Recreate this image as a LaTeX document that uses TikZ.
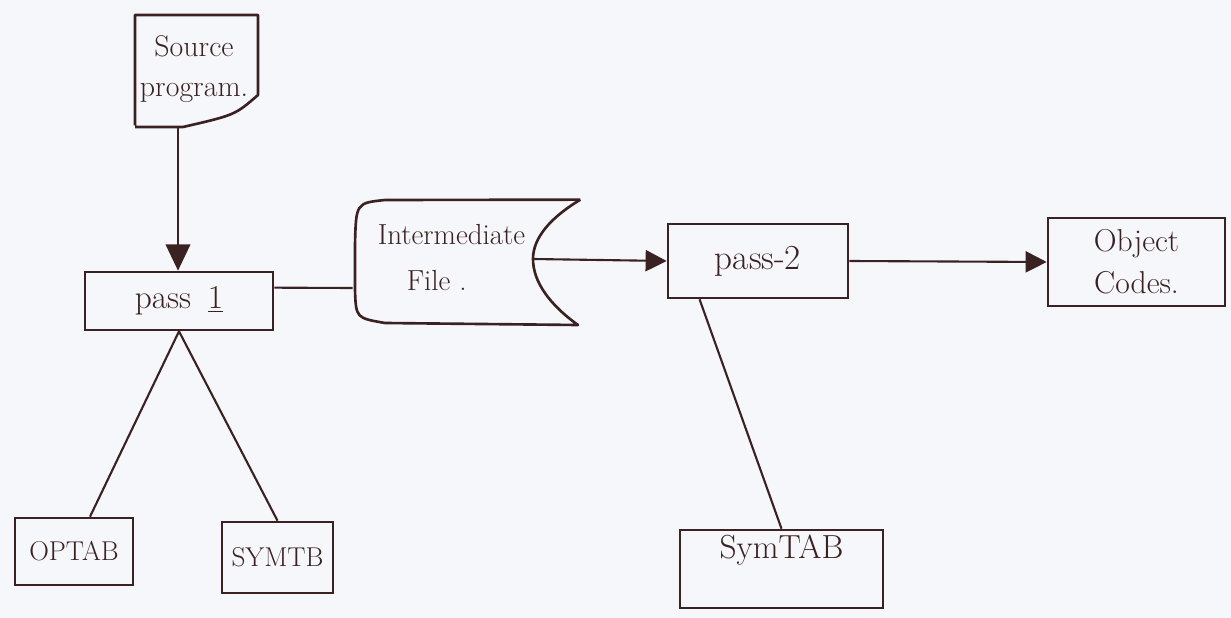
\documentclass[tikz,border=0pt]{standalone}
\usetikzlibrary{arrows.meta,calc}
\definecolor{ink}{HTML}{3B2222}
\definecolor{paper}{HTML}{F6F7FA}
\begin{document}
\begin{tikzpicture}[x=0.02cm,y=-0.02cm,
  box/.style={draw=ink,line width=1.5pt,rectangle,inner sep=0pt,text=ink,align=center},
  holder/.style={draw=none,rectangle,inner sep=0pt,text=ink},
  outline/.style={draw=ink,line width=1.5pt,line join=round},
  link/.style={draw=ink,line width=1.2pt},
  arrowlink/.style={link,-{Triangle[length=12pt,width=12pt]}},
  bigarrow/.style={link,-{Triangle[length=15pt,width=14pt]}}]
\useasboundingbox (0,0) rectangle (1231,618);
\fill[paper] (0,0) rectangle (1231,618);

% Source program (document shape)
\node[holder,minimum width=2.46cm,minimum height=2.24cm,align=center,
      font=\fontsize{17}{23}\selectfont] (src) at (194,69) {Source\\program.};
\draw[outline] (src.south west -| 135,0) |- (258,15)
   -- (258,95)
   .. controls (235,115) .. (183,127) -- (135,127);

% pass 1
\node[box,minimum width=3.76cm,minimum height=1.16cm,
      font=\fontsize{19}{20}\selectfont] (p1) at (179,301) {pass\enspace\underline{1}};

% Intermediate file (stored data shape)
\node[holder,minimum width=4.54cm,minimum height=2.5cm,
      label={[text=ink,align=left,xshift=-0.3cm,yshift=0.1cm,
              font=\fontsize{16.5}{26}\selectfont]center:Intermediate\\\quad File .}]
      (imf) at (466.5,262.5) {};
\coordinate (imfin) at (533,259);
\draw[outline] (imf.north east) -- (385,200)
   .. controls (356,203) .. (355,245) -- (355,290)
   .. controls (356,318) .. (385,323) -- (578,325)
   .. controls (550,305) and (533,282) .. (imfin)
   .. controls (533,238) and (550,218) .. (imf.north east);

% pass-2
\node[box,minimum width=3.6cm,minimum height=1.48cm,
      font=\fontsize{20}{22}\selectfont] (p2) at (758,261) {pass-2};

% Object Codes
\node[box,minimum width=3.54cm,minimum height=1.76cm,
      font=\fontsize{18}{24}\selectfont] (obj) at (1136.5,262) {Object\\Codes.};

% tables
\node[box,minimum width=2.36cm,minimum height=1.34cm,
      font=\fontsize{15.5}{18}\selectfont] (optab) at (74,551.5) {OPTAB};
\node[box,minimum width=2.22cm,minimum height=1.42cm,
      font=\fontsize{15.5}{18}\selectfont] (symtb) at (277.5,557.5) {SYMTB};
\node[box,minimum width=4.06cm,minimum height=1.56cm,
      label={[text=ink,yshift=0.38cm,font=\fontsize{19}{22}\selectfont]center:SymTAB}] (st) at (781.5,569) {};

% connectors
\coordinate (srcout) at (178,127);
\draw[bigarrow] (srcout) -- (srcout |- p1.north);
\draw[link] ($(p1.north east)!0.28!(p1.south east)$) -- (imf.west |- 0,288);
\draw[arrowlink] (imfin) -- (p2.west);
\draw[arrowlink] (p2.east) -- (obj.west);
\draw[link] (p1.south) -- (optab.north -| 90,0);
\draw[link] (p1.south) -- (symtb.north);
\draw[link] ($(p2.south west)!0.18!(p2.south east)$) -- (st.north);
\end{tikzpicture}
\end{document}
